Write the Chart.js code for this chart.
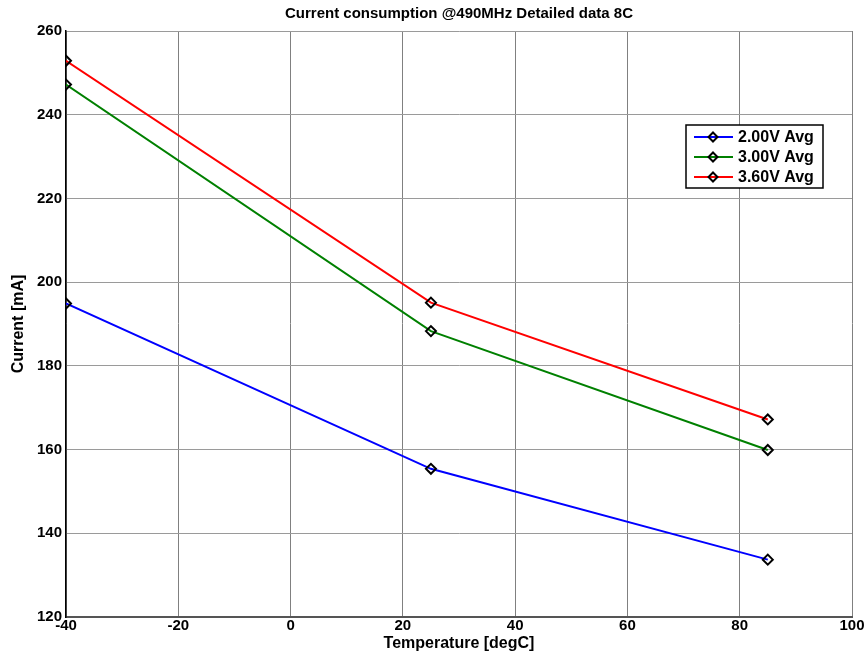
<!DOCTYPE html>
<html>
<head>
<meta charset="utf-8">
<title>Current consumption</title>
<script src="https://cdn.jsdelivr.net/npm/chart.js@4"></script>
<style>
  html, body { margin: 0; padding: 0; background: #fff; }
  #wrap { width: 868px; height: 659px; }
</style>
</head>
<body>
<div id="wrap"><canvas id="currentChart" width="868" height="659"></canvas></div>
<script>
// Measured points: temperature vs average current per supply voltage
const temperatures = [-40, 25, 85];
const avg200V = [194.9, 155.4, 133.7];
const avg300V = [247.2, 188.3, 159.9];
const avg360V = [252.9, 195.1, 167.2];

const seriesNames = ['2.00V Avg', '3.00V Avg', '3.60V Avg'];
const seriesColors = ['#0000ff', '#008000', '#ff0000'];

const xTicks = [-40, -20, 0, 20, 40, 60, 80, 100];
const yTicks = [120, 140, 160, 180, 200, 220, 240, 260];

const FONT = '"Liberation Sans", Arial, Helvetica, sans-serif';

function toPoints(values) {
  return temperatures.map((t, i) => ({ x: t, y: values[i] }));
}

function makeDataset(label, values, color) {
  return {
    label: label,
    data: toPoints(values),
    borderColor: color,
    borderWidth: 2,
    pointStyle: 'rectRot',
    pointRadius: 5,
    pointBorderColor: '#000',
    pointBorderWidth: 2,
    pointBackgroundColor: 'rgba(255,255,255,0)',
    tension: 0
  };
}

// legend drawn inside the plot, matlab style
const boxLegend = {
  id: 'boxLegend',
  afterDraw(chart) {
    const ctx = chart.ctx;
    const left = 686, top = 125, w = 137, h = 63;
    ctx.save();
    ctx.fillStyle = '#fff';
    ctx.fillRect(left, top, w, h);
    ctx.strokeStyle = '#000';
    ctx.lineWidth = 1.5;
    ctx.strokeRect(left, top, w, h);
    ctx.font = 'bold 16px ' + FONT;
    ctx.textBaseline = 'middle';
    chart.data.datasets.forEach((ds, i) => {
      const y = top + 12 + i * 20;
      ctx.strokeStyle = ds.borderColor;
      ctx.lineWidth = 2;
      ctx.beginPath();
      ctx.moveTo(left + 8, y);
      ctx.lineTo(left + 47, y);
      ctx.stroke();
      // diamond marker
      const cx = left + 27, r = 4.5;
      ctx.strokeStyle = '#000';
      ctx.beginPath();
      ctx.moveTo(cx, y - r);
      ctx.lineTo(cx + r, y);
      ctx.lineTo(cx, y + r);
      ctx.lineTo(cx - r, y);
      ctx.closePath();
      ctx.stroke();
      ctx.fillStyle = '#000';
      ctx.fillText(ds.label, left + 52, y + 1);
    });
    ctx.restore();
  }
};

const ctx = document.getElementById('currentChart').getContext('2d');
const currentChart = new Chart(ctx, {
  type: 'line',
  data: {
    datasets: [
      makeDataset(seriesNames[0], avg200V, seriesColors[0]),
      makeDataset(seriesNames[1], avg300V, seriesColors[1]),
      makeDataset(seriesNames[2], avg360V, seriesColors[2])
    ]
  },
  options: {
    responsive: false,
    animation: false,
    layout: { padding: { left: 0, right: 16, top: 0, bottom: 0 } },
    plugins: {
      legend: { display: false },
      tooltip: { enabled: false },
      title: {
        display: true,
        fullSize: false,
        text: 'Current consumption @490MHz Detailed data 8C',
        color: '#000',
        font: { family: FONT, size: 15, weight: 'bold' },
        padding: { top: 5, bottom: 8 }
      }
    },
    scales: {
      x: {
        type: 'linear',
        min: -40,
        max: 100,
        afterBuildTicks: (scale) => { scale.ticks = xTicks.map(v => ({ value: v })); },
        afterFit: (scale) => { scale.height = 42; },
        ticks: {
          color: '#000',
          font: { family: FONT, size: 15, weight: 'bold' },
          padding: 0,
          maxRotation: 0
        },
        grid: {
          color: '#808080',
          lineWidth: 1,
          drawTicks: false
        },
        border: { color: '#555', width: 2 },
        title: {
          display: true,
          text: 'Temperature [degC]',
          color: '#000',
          font: { family: FONT, size: 16, weight: 'bold' },
          padding: { top: 0, bottom: 6 }
        }
      },
      y: {
        min: 120,
        max: 260,
        afterBuildTicks: (scale) => { scale.ticks = yTicks.map(v => ({ value: v })); },
        afterFit: (scale) => { scale.width = 66; },
        ticks: {
          color: '#000',
          font: { family: FONT, size: 15, weight: 'bold' },
          padding: 4
        },
        grid: {
          color: '#9a9a9a',
          lineWidth: 1,
          drawTicks: false,
          borderDash: [2, 1]
        },
        border: { color: '#000', width: 1.5, dash: [] },
        title: {
          display: true,
          text: 'Current [mA]',
          color: '#000',
          font: { family: FONT, size: 16, weight: 'bold' },
          padding: { top: 9, bottom: 0 }
        }
      }
    }
  },
  plugins: [boxLegend]
});
</script>
</body>
</html>
